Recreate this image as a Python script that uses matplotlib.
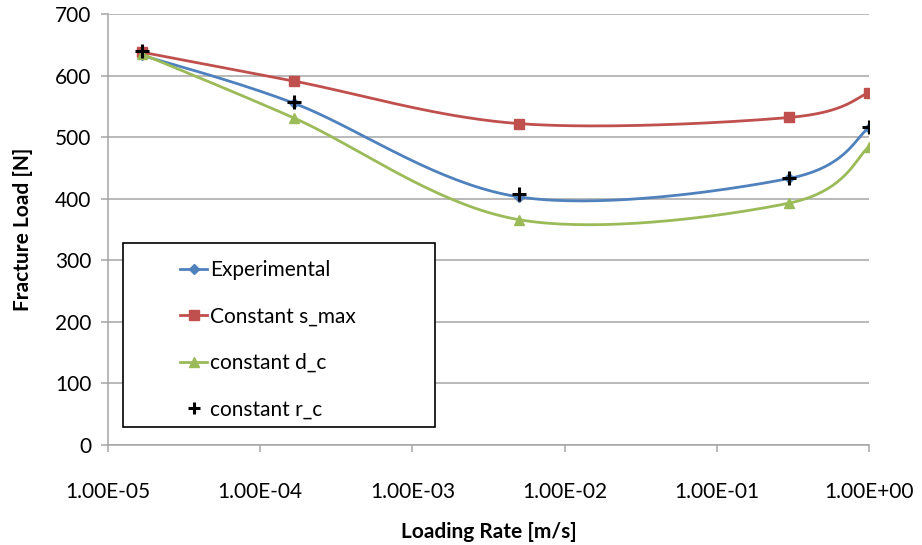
import numpy as np
import matplotlib
matplotlib.use("Agg")
import matplotlib.pyplot as plt
from matplotlib.patches import Rectangle
from matplotlib.lines import Line2D

# values
rate = [1.67e-5, 1.67e-4, 5e-3, 0.3, 1.0]
experimental = [633, 555, 403, 433, 515]
const_smax = [638, 591, 522, 532, 572]
const_dc = [635, 531, 366, 393, 484]
const_rc = [640, 557, 407, 434, 517]

x_ticks = [1e-5, 1e-4, 1e-3, 1e-2, 1e-1, 1e0]
x_labels = ["1.00E-05", "1.00E-04", "1.00E-03", "1.00E-02", "1.00E-01", "1.00E+00"]
y_ticks = [0, 100, 200, 300, 400, 500, 600, 700]

plt.rcParams['font.family'] = ['Lato', 'DejaVu Sans']
FS = 15


def smooth(xs, ys, n=40):
    # Excel-like smoothed line: Catmull-Rom bezier in (log x, y) space
    u = np.log10(xs)
    p = np.column_stack([u, ys])
    out = []
    for i in range(len(p) - 1):
        p0 = p[i - 1] if i > 0 else p[i]
        p1 = p[i]
        p2 = p[i + 1]
        p3 = p[i + 2] if i + 2 < len(p) else p[i + 1]
        c1 = p1 + (p2 - p0) / 6.0
        c2 = p2 - (p3 - p1) / 6.0
        t = np.linspace(0, 1, n)[:, None]
        seg = ((1 - t) ** 3) * p1 + 3 * ((1 - t) ** 2) * t * c1 + 3 * (1 - t) * t ** 2 * c2 + t ** 3 * p2
        out.append(seg if i == 0 else seg[1:])
    out = np.vstack(out)
    return 10 ** out[:, 0], out[:, 1]


fig = plt.figure(figsize=(9.22, 5.45), dpi=100)
ax = fig.add_axes([108 / 922, 1 - 445 / 545, 761 / 922, 431 / 545])

blue = "#4F81BD"
red = "#C0504D"
green = "#9BBB59"

sx, sy = smooth(rate, experimental)
ax.plot(sx, sy, color=blue, lw=2.0, zorder=3)
ax.plot(rate, experimental, ls="none", marker="D", ms=5, color=blue, zorder=3)

sx, sy = smooth(rate, const_smax)
ax.plot(sx, sy, color=red, lw=2.0, zorder=4)
ax.plot(rate, const_smax, ls="none", marker="s", ms=7, color=red, zorder=4)

sx, sy = smooth(rate, const_dc)
ax.plot(sx, sy, color=green, lw=2.0, zorder=5)
ax.plot(rate, const_dc, ls="none", marker="^", ms=7.5, color=green, zorder=5)

ax.plot(rate, const_rc, ls="none", marker="+", ms=10, mew=2.2, color="black", zorder=6)

ax.set_xscale("log")
ax.set_xlim(1e-5, 1e0)
ax.set_ylim(0, 700)
ax.set_xticks(x_ticks)
ax.set_xticklabels(x_labels)
ax.xaxis.set_minor_locator(matplotlib.ticker.NullLocator())
ax.set_yticks(y_ticks)

ax.grid(axis="y", color="#A6A6A6", lw=1.1)
ax.set_axisbelow(True)
for s in ["top", "right"]:
    ax.spines[s].set_visible(False)
for s in ["left", "bottom"]:
    ax.spines[s].set_color("#A6A6A6")
    ax.spines[s].set_linewidth(1.1)
ax.tick_params(axis="both", colors="#A6A6A6", labelcolor="black", labelsize=FS, length=5, width=1.1)
ax.tick_params(axis="x", pad=22)
ax.tick_params(axis="y", pad=7)

ax.set_xlabel("Loading Rate [m/s]", fontsize=FS, fontweight="bold", labelpad=14)
ax.set_ylabel("Fracture Load [N]", fontsize=FS, fontweight="bold", labelpad=16)

# legend box
x0 = (123 - 108) / 761
x1 = (435 - 108) / 761
y0 = (445 - 427) / 431
y1 = (445 - 243) / 431
ax.add_patch(Rectangle((x0, y0), x1 - x0, y1 - y0, transform=ax.transAxes,
                       facecolor="white", edgecolor="black", lw=1.2, zorder=10))

handles = [
    Line2D([], [], color=blue, lw=2.0, marker="D", ms=5),
    Line2D([], [], color=red, lw=2.0, marker="s", ms=7),
    Line2D([], [], color=green, lw=2.0, marker="^", ms=7.5),
    Line2D([], [], ls="none", color="black", marker="+", ms=9, mew=2.2),
]
labels = ["Experimental", "Constant s_max", "constant d_c", "constant r_c"]
leg = ax.legend(handles, labels, loc="upper left",
                bbox_to_anchor=((180 - 108) / 761, (445 - 260) / 431),
                frameon=False, borderpad=0, borderaxespad=0,
                fontsize=FS, labelspacing=1.27, handlelength=1.3,
                handletextpad=0.15)
leg.set_zorder(11)

fig.savefig("out.png", dpi=100)
